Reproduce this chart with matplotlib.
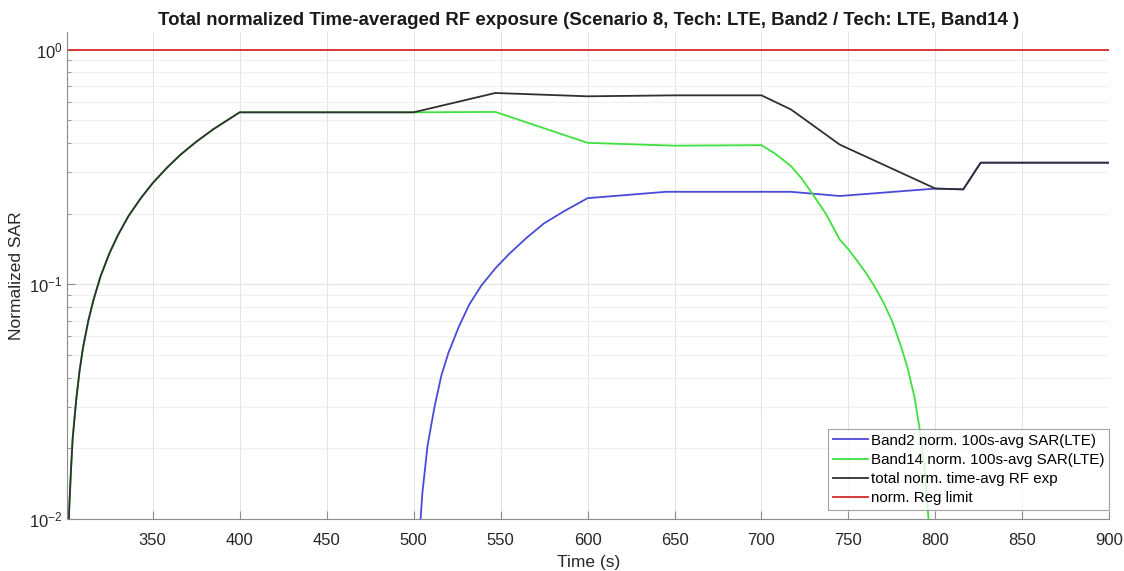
import matplotlib.pyplot as plt
from matplotlib.ticker import LogLocator, NullFormatter

# values (time in s, normalized SAR)
t_total = [301, 302, 303, 304, 306, 308, 310, 313, 316, 320, 325, 330, 336, 343, 350,
           358, 366, 375, 385, 400, 500, 547, 600, 650, 700, 717, 745, 800, 816, 826, 900]
sar_total = [0.0054, 0.011, 0.016, 0.022, 0.032, 0.043, 0.054, 0.070, 0.086, 0.108, 0.135,
             0.162, 0.195, 0.232, 0.270, 0.313, 0.357, 0.405, 0.459, 0.541, 0.541, 0.654,
             0.633, 0.639, 0.639, 0.556, 0.394, 0.256, 0.254, 0.330, 0.330]

t_band14 = [301, 302, 303, 304, 306, 308, 310, 313, 316, 320, 325, 330, 336, 343, 350,
            358, 366, 375, 385, 400, 500, 547, 600, 650, 700, 708, 717, 723, 729, 737, 745,
            750, 755, 760, 765, 770, 775, 780, 784, 788, 791, 794, 796, 798, 799]
sar_band14 = [0.0054, 0.011, 0.016, 0.022, 0.032, 0.043, 0.054, 0.070, 0.086, 0.108, 0.135,
              0.162, 0.195, 0.232, 0.270, 0.313, 0.357, 0.405, 0.459, 0.541, 0.541, 0.543,
              0.401, 0.390, 0.392, 0.360, 0.319, 0.283, 0.245, 0.200, 0.155,
              0.141, 0.126, 0.112, 0.098, 0.084, 0.070, 0.055, 0.044, 0.033, 0.024, 0.016,
              0.010, 0.0043, 0.0014]

t_band2 = [501, 502, 503, 505, 508, 512, 516, 520, 526, 532, 539, 547, 555, 565, 575, 587,
           600, 645, 700, 717, 745, 800, 816, 826, 900]
sar_band2 = [0.0025, 0.005, 0.0077, 0.0128, 0.0205, 0.030, 0.041, 0.051, 0.066, 0.082,
             0.099, 0.117, 0.135, 0.158, 0.182, 0.206, 0.233, 0.248, 0.248, 0.248, 0.238,
             0.256, 0.254, 0.330, 0.330]

t_limit = [301, 900]
limit = [1.0, 1.0]

labels = ['Band2 norm. 100s-avg SAR(LTE)', 'Band14 norm. 100s-avg SAR(LTE)',
          'total norm. time-avg RF exp', 'norm. Reg limit']

plt.rcParams['font.family'] = ['Liberation Sans', 'DejaVu Sans']
plt.rcParams['axes.unicode_minus'] = False

fig = plt.figure(figsize=(11.24, 5.71), dpi=100)
ax = fig.add_axes([0.06, 0.091, 0.927, 0.853])

ax.plot(t_band2, sar_band2, color='#4a4ad8', lw=1.3, label=labels[0])
ax.plot(t_band14, sar_band14, color='#3fe03f', lw=1.3, label=labels[1])
ax.plot(t_total, sar_total, color='#303030', lw=1.3, label=labels[2])
ax.plot(t_limit, limit, color='#d42a2a', lw=1.3, label=labels[3])

ax.set_yscale('log')
ax.set_xlim(301, 900)
ax.set_ylim(0.01, 1.19)
ax.set_xticks(range(350, 901, 50))
ax.yaxis.set_major_locator(LogLocator(base=10, numticks=10))
ax.yaxis.set_minor_locator(LogLocator(base=10, subs=range(2, 10), numticks=20))
ax.yaxis.set_minor_formatter(NullFormatter())

ax.grid(True, which='major', color='#e4e4e4', lw=0.8)
ax.grid(True, which='minor', axis='y', color='#efefef', lw=0.8)
ax.set_axisbelow(True)

for side in ['top', 'right']:
    ax.spines[side].set_visible(False)
for side in ['left', 'bottom']:
    ax.spines[side].set_color('#8c8c8c')
ax.tick_params(which='both', direction='in', colors='#8c8c8c', labelcolor='#262626',
               labelsize=12)
ax.tick_params(which='major', length=6)
ax.tick_params(which='minor', length=3)
ax.tick_params(axis='x', pad=10)

ax.set_xlabel('Time (s)', fontsize=12.5, color='#262626', labelpad=5)
ax.set_ylabel('Normalized SAR', fontsize=12.5, color='#262626', labelpad=4)
ax.set_title('Total normalized Time-averaged RF exposure (Scenario 8, Tech: LTE, Band2 / Tech: LTE, Band14 )',
             fontsize=13.4, fontweight='bold', color='#1a1a1a', pad=5)

leg = ax.legend(loc='lower right', bbox_to_anchor=(1.0, 0.0185), fontsize=10.9,
                frameon=True, fancybox=False, handlelength=2.3, handletextpad=0.25,
                borderpad=0.3, labelspacing=0.35, borderaxespad=0)
leg.get_frame().set_edgecolor('#8c8c8c')
leg.get_frame().set_linewidth(0.8)

plt.savefig('out.png', dpi=100)
